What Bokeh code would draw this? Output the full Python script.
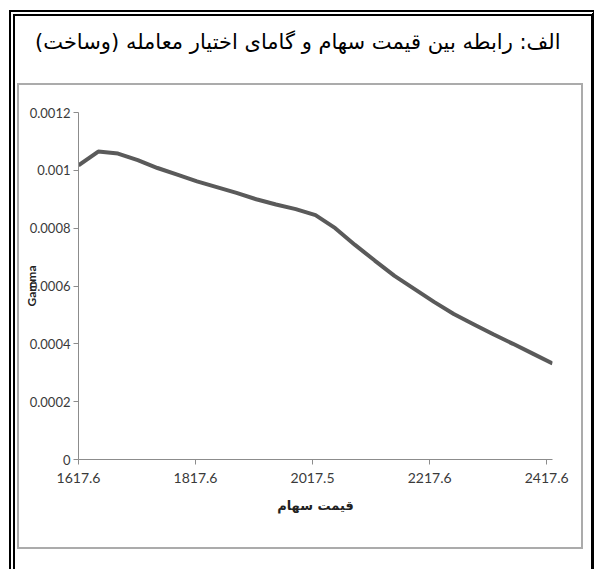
from bokeh.plotting import figure
from bokeh.models import FixedTicker, Range1d, InlineStyleSheet
from bokeh.embed import file_html
from bokeh.resources import INLINE

# ---- data ----
title_text = "الف: رابطه بین قیمت سهام و گامای اختیار معامله (وساخت)"
x_label = "قیمت سهام"
y_label = "Gamma"

stock_price = [1617.6, 1651.35, 1685.1, 1718.85, 1752.6, 1786.35, 1820.1, 1853.85,
               1887.6, 1921.35, 1955.1, 1988.85, 2022.6, 2056.35, 2090.1, 2123.85,
               2157.6, 2191.35, 2225.1, 2258.85, 2292.6, 2326.35, 2360.1, 2393.85, 2427.6]
gamma = [0.001017, 0.001065, 0.001058, 0.001035, 0.001008, 0.000985, 0.000962, 0.000942,
         0.000922, 0.000900, 0.000882, 0.000866, 0.000845, 0.000800, 0.000742, 0.000688,
         0.000635, 0.000590, 0.000545, 0.000503, 0.000468, 0.000433, 0.000400, 0.000366,
         0.000332]

x_ticks = [1617.6, 1817.6, 2017.6, 2217.6, 2417.6]
x_tick_labels = ["1617.6", "1817.6", "2017.5", "2217.6", "2417.6"]
y_ticks = [0.0, 0.0002, 0.0004, 0.0006, 0.0008, 0.001, 0.0012]
y_tick_labels = ["0", "0.0002", "0.0004", "0.0006", "0.0008", "0.001", "0.0012"]

W, H = 595, 569

# page frame (double rule, right rule, grey chart box) drawn as CSS decoration
frame_css = InlineStyleSheet(css="""
:host::before {
  content: ""; position: absolute; left: 9px; top: 10px; right: 1px; bottom: 0px;
  box-sizing: border-box;
  border-left: 6px double #000; border-top: 6px double #000;
  border-right: 3px solid #000;
  pointer-events: none; z-index: 5;
}
:host::after {
  content: ""; position: absolute; left: 17px; top: 83px; width: 566px; height: 466px;
  box-sizing: border-box; border: 2px solid #ababab;
  pointer-events: none; z-index: 5;
}
""")

p = figure(width=W, height=H, output_backend="svg", toolbar_location=None,
           x_range=Range1d(1617.6, 2427.6), y_range=Range1d(0, 0.0012),
           min_border_left=78, min_border_right=43, min_border_top=112,
           min_border_bottom=110, stylesheets=[frame_css])
p.outline_line_color = None
p.background_fill_color = "white"
p.border_fill_color = "white"
p.xgrid.visible = False
p.ygrid.visible = False

# title (two trailing blank lines lift the text into the top row)
p.title.text = title_text + "\n \n "
p.title.align = "right"
p.title.offset = -8
p.title.vertical_align = "bottom"
p.title.standoff = 22
p.title.text_font = "DejaVu Sans"
p.title.text_font_style = "normal"
p.title.text_font_size = "21px"
p.title.text_color = "black"

# axes
for ax in (p.xaxis[0], p.yaxis[0]):
    ax.axis_line_color = "#8c8c8c"
    ax.major_tick_line_color = "#8c8c8c"
    ax.minor_tick_line_color = None
    ax.major_tick_in = 0
    ax.major_tick_out = 5
    ax.major_label_text_font = "Lato"
    ax.major_label_text_color = "#3a3a3a"
    ax.axis_label_text_font_style = "bold"
    ax.axis_label_text_color = "#222222"

p.xaxis.ticker = FixedTicker(ticks=x_ticks)
p.xaxis.major_label_overrides = dict(zip(x_ticks, x_tick_labels))
p.xaxis.major_label_text_font_size = "14px"
p.xaxis.major_label_standoff = 8
p.yaxis.ticker = FixedTicker(ticks=y_ticks)
p.yaxis.major_label_overrides = dict(zip(y_ticks, y_tick_labels))
p.yaxis.major_label_text_font_size = "13px"
p.yaxis.major_label_standoff = 3

p.xaxis.axis_label = x_label
p.xaxis.axis_label_text_font = "DejaVu Sans"
p.xaxis.axis_label_text_font_size = "13px"
p.xaxis.axis_label_standoff = 12
p.yaxis.axis_label = y_label
p.yaxis.axis_label_text_font = "Lato"
p.yaxis.axis_label_text_font_size = "12px"
p.yaxis.axis_label_standoff = -12

p.line(stock_price, gamma, line_color="#5a5a5a", line_width=4)

open("out.html", "w").write(file_html(p, INLINE))
